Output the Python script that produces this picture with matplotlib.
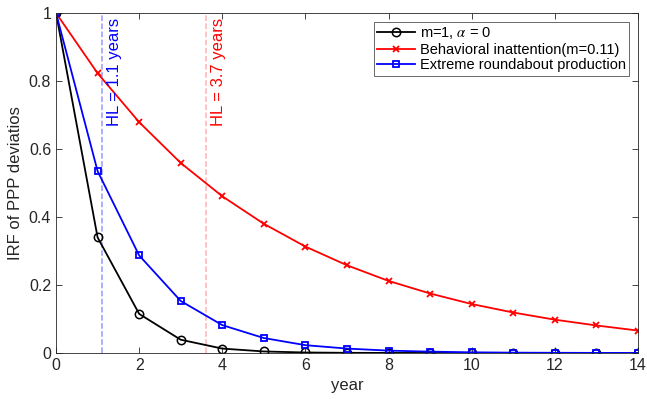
import numpy as np
import matplotlib
matplotlib.use("Agg")
import matplotlib.pyplot as plt

plt.rcParams["font.family"] = ["Liberation Sans", "DejaVu Sans"]
plt.rcParams["mathtext.fontset"] = "stix"

# --- Daten ---------------------------------------------------------------
years = np.arange(0, 15)
irf_base = [1.0, 0.34, 0.115, 0.039, 0.013, 0.0045, 0.0015, 0.0005, 0.0002,
            0.0001, 0.0, 0.0, 0.0, 0.0, 0.0]
irf_inatt = [1.0, 0.823, 0.679, 0.559, 0.461, 0.38, 0.313, 0.258, 0.212,
             0.175, 0.144, 0.119, 0.098, 0.081, 0.066]
irf_round = [1.0, 0.535, 0.287, 0.153, 0.082, 0.044, 0.023, 0.013, 0.007,
             0.004, 0.002, 0.001, 0.0006, 0.0003, 0.0002]
hl_round = 1.1
hl_inatt = 3.6
hl_labels = ["HL = 1.1 years", "HL = 3.7 years"]
labels = ["m=1, $\\alpha$ = 0", "Behavioral inattention(m=0.11)",
          "Extreme roundabout production"]

# -- Plot ----------------------------------------------------------------
fig = plt.figure(figsize=(6.47, 3.99), dpi=100)
ax = fig.add_axes([0.0866, 0.1153, 0.8994, 0.852])

ax.axvline(hl_round, color=(0.6, 0.6, 1.0), ls="--", lw=1.1, zorder=1)
ax.axvline(hl_inatt, color=(1.0, 0.7, 0.7), ls="--", lw=1.1, zorder=1)

ax.plot(years, irf_base, "-o", color="k", lw=1.3, ms=6, mfc="none",
        mew=1.1, label=labels[0])
ax.plot(years, irf_inatt, "-x", color="r", lw=1.3, ms=5, mew=1.3,
        label=labels[1])
ax.plot(years, irf_round, "-s", color="b", lw=1.3, ms=5, mfc="none",
        mew=1.3, label=labels[2])

ax.text(hl_round + 0.3, 0.985, hl_labels[0], rotation=90, color="b",
        fontsize=12, ha="center", va="top")
ax.text(hl_inatt + 0.3, 0.985, hl_labels[1], rotation=90, color="r",
        fontsize=12, ha="center", va="top")

ax.set_xlim(0, 14)
ax.set_ylim(0, 1)
ax.set_xticks(np.arange(0, 15, 2))
ax.set_yticks([0, 0.2, 0.4, 0.6, 0.8, 1.0])
ax.set_yticklabels(["0", "0.2", "0.4", "0.6", "0.8", "1"])

gray = (0.15, 0.15, 0.15)
ax.tick_params(direction="in", top=True, right=True, labelsize=11.5,
               colors=gray, length=4, width=0.6)
for s in ax.spines.values():
    s.set_color(gray)
    s.set_linewidth(0.6)

ax.set_xlabel("year", fontsize=12, color=gray)
ax.set_ylabel("IRF of PPP deviatios", fontsize=12, color=gray)

leg = ax.legend(loc="upper right", fontsize=10.5, frameon=True, fancybox=False,
                edgecolor=gray, borderpad=0.25, labelspacing=0.1,
                handlelength=2.6, handletextpad=0.3, borderaxespad=0.6)
leg.get_frame().set_linewidth(0.6)

fig.savefig("out.png", dpi=100)
plt.close(fig)
